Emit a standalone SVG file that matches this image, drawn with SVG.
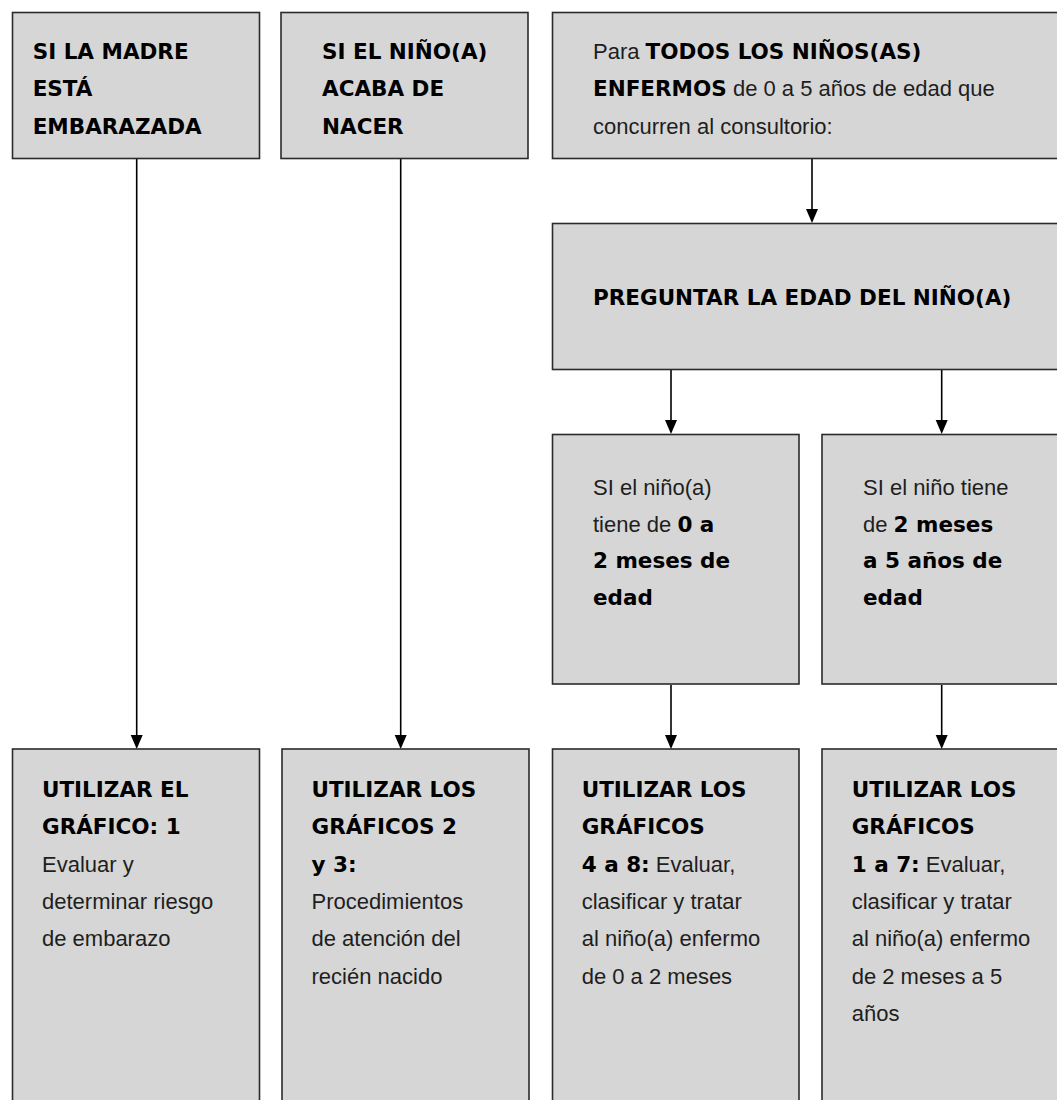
<svg xmlns="http://www.w3.org/2000/svg" width="1057" height="1100" viewBox="0 0 1057 1100">
  <style>
    .box { fill: #d6d6d6; stroke: #2b2b2b; stroke-width: 1.6; }
    .r { font-family: "Liberation Sans", Arial, sans-serif; font-size: 22px; fill: #1e1e1e; }
    .b { font-family: "DejaVu Sans", "Liberation Sans", sans-serif; font-size: 21.5px; font-weight: bold; fill: #000; }
    .link { stroke: #000; stroke-width: 1.6; fill: none; marker-end: url(#arrow); }
  </style>
  <defs>
    <marker id="arrow" markerUnits="userSpaceOnUse" markerWidth="12" markerHeight="14" viewBox="0 0 12 14" refX="6" refY="14" orient="auto-start-reverse">
      <path d="M0,0 L12,0 L6,14 Z" fill="#000" transform="rotate(-90 6 7) translate(0 0)"/>
    </marker>
  </defs>

  <rect x="0" y="0" width="1057" height="1100" fill="#fff"/>

  <!-- connectors -->
  <g id="connectors">
    <line x1="136.7" y1="159" x2="136.7" y2="736" stroke="#000" stroke-width="1.6"/>
    <path d="M130.7,735 L142.7,735 L136.7,749 Z"/>
    <line x1="400.7" y1="159" x2="400.7" y2="736" stroke="#000" stroke-width="1.6"/>
    <path d="M394.7,735 L406.7,735 L400.7,749 Z"/>
    <line x1="812" y1="159" x2="812" y2="210" stroke="#000" stroke-width="1.6"/>
    <path d="M806,209 L818,209 L812,223 Z"/>
    <line x1="671" y1="370" x2="671" y2="421" stroke="#000" stroke-width="1.6"/>
    <path d="M665,420 L677,420 L671,434 Z"/>
    <line x1="941.7" y1="370" x2="941.7" y2="421" stroke="#000" stroke-width="1.6"/>
    <path d="M935.7,420 L947.7,420 L941.7,434 Z"/>
    <line x1="671" y1="685" x2="671" y2="736" stroke="#000" stroke-width="1.6"/>
    <path d="M665,735 L677,735 L671,749 Z"/>
    <line x1="941.7" y1="685" x2="941.7" y2="736" stroke="#000" stroke-width="1.6"/>
    <path d="M935.7,735 L947.7,735 L941.7,749 Z"/>
  </g>

  <!-- top row -->
  <g id="madre-embarazada">
    <rect class="box" x="12.5" y="12.5" width="247" height="146"/>
    <text class="b" x="32.7" y="59">SI LA MADRE</text>
    <text class="b" x="32.7" y="96.3">ESTÁ</text>
    <text class="b" x="32.7" y="133.6">EMBARAZADA</text>
  </g>

  <g id="recien-nacido">
    <rect class="box" x="281" y="12.5" width="247" height="146"/>
    <text class="b" x="322" y="59">SI EL NIÑO(A)</text>
    <text class="b" x="322" y="96.3">ACABA DE</text>
    <text class="b" x="322" y="133.6">NACER</text>
  </g>

  <g id="todos-enfermos">
    <rect class="box" x="552.5" y="12.5" width="520" height="146"/>
    <text class="r" x="593" y="59">Para <tspan class="b">TODOS LOS NIÑOS(AS)</tspan></text>
    <text class="r" x="593" y="96.3"><tspan class="b">ENFERMOS</tspan> de 0 a 5 años de edad que</text>
    <text class="r" x="593" y="133.6">concurren al consultorio:</text>
  </g>

  <g id="preguntar-edad">
    <rect class="box" x="552.5" y="223.5" width="520" height="146"/>
    <text class="b" x="593" y="305">PREGUNTAR LA EDAD DEL NIÑO(A)</text>
  </g>

  <!-- age split -->
  <g id="edad-0-2-meses">
    <rect class="box" x="552.5" y="434.5" width="246.5" height="249.5"/>
    <text class="r" x="593" y="495">SI el niño(a)</text>
    <text class="r" x="593" y="531.5">tiene de <tspan class="b">0 a</tspan></text>
    <text class="b" x="593" y="568">2 meses de</text>
    <text class="b" x="593" y="605">edad</text>
  </g>

  <g id="edad-2-meses-5-anos">
    <rect class="box" x="822" y="434.5" width="250" height="249.5"/>
    <text class="r" x="863" y="495">SI el niño tiene</text>
    <text class="r" x="863" y="531.5">de <tspan class="b">2 meses</tspan></text>
    <text class="b" x="863" y="568">a 5 años de</text>
    <text class="b" x="863" y="605">edad</text>
  </g>

  <!-- bottom row -->
  <g id="grafico-1">
    <rect class="box" x="12.5" y="749" width="247" height="370"/>
    <text class="b" x="42" y="797">UTILIZAR EL</text>
    <text class="b" x="42" y="834.3">GRÁFICO: 1</text>
    <text class="r" x="42" y="871.6">Evaluar y</text>
    <text class="r" x="42" y="908.9">determinar riesgo</text>
    <text class="r" x="42" y="946.2">de embarazo</text>
  </g>

  <g id="graficos-2-3">
    <rect class="box" x="282" y="749" width="247" height="370"/>
    <text class="b" x="311.5" y="797">UTILIZAR LOS</text>
    <text class="b" x="311.5" y="834.3">GRÁFICOS 2</text>
    <text class="b" x="311.5" y="871.6">y 3:</text>
    <text class="r" x="311.5" y="908.9">Procedimientos</text>
    <text class="r" x="311.5" y="946.2">de atención del</text>
    <text class="r" x="311.5" y="983.5">recién nacido</text>
  </g>

  <g id="graficos-4-8">
    <rect class="box" x="552.5" y="749" width="246.5" height="370"/>
    <text class="b" x="581.7" y="797">UTILIZAR LOS</text>
    <text class="b" x="581.7" y="834.3">GRÁFICOS</text>
    <text class="r" x="581.7" y="871.6"><tspan class="b">4 a 8:</tspan> Evaluar,</text>
    <text class="r" x="581.7" y="908.9">clasificar y tratar</text>
    <text class="r" x="581.7" y="946.2">al niño(a) enfermo</text>
    <text class="r" x="581.7" y="983.5">de 0 a 2 meses</text>
  </g>

  <g id="graficos-1-7">
    <rect class="box" x="822" y="749" width="250" height="370"/>
    <text class="b" x="851.7" y="797">UTILIZAR LOS</text>
    <text class="b" x="851.7" y="834.3">GRÁFICOS</text>
    <text class="r" x="851.7" y="871.6"><tspan class="b">1 a 7:</tspan> Evaluar,</text>
    <text class="r" x="851.7" y="908.9">clasificar y tratar</text>
    <text class="r" x="851.7" y="946.2">al niño(a) enfermo</text>
    <text class="r" x="851.7" y="983.5">de 2 meses a 5</text>
    <text class="r" x="851.7" y="1020.8">años</text>
  </g>
</svg>
